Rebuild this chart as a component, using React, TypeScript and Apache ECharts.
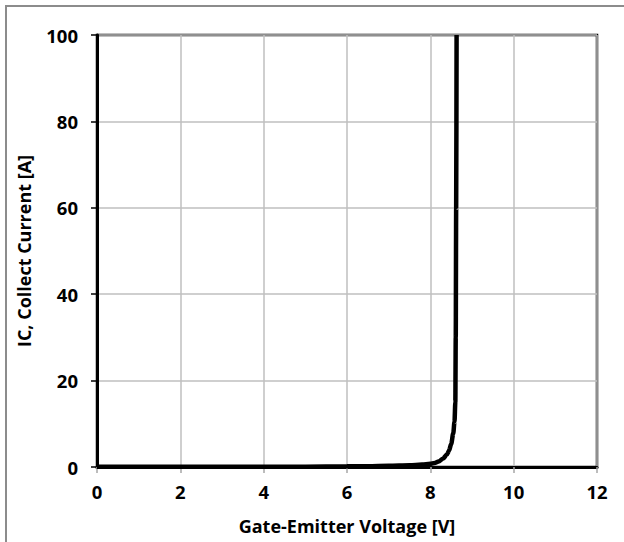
import React, { useEffect, useRef } from "react";
import * as echarts from "echarts";

const voltage = [0, 1, 2, 3, 4, 5, 6, 6.5, 7, 7.5, 7.8, 8, 8.1, 8.2, 8.3, 8.4, 8.45, 8.5, 8.55, 8.58, 8.6, 8.61, 8.62, 8.63];
const current = [0.05, 0.05, 0.05, 0.05, 0.06, 0.08, 0.15, 0.2, 0.3, 0.42, 0.55, 0.75, 0.95, 1.3, 1.9, 2.9, 3.8, 5.3, 7.8, 10.5, 15, 30, 60, 100];
const xTicks = [0, 2, 4, 6, 8, 10, 12];
const yTicks = [0, 20, 40, 60, 80, 100];

export default function App() {
  const ref = useRef<HTMLDivElement>(null);
  useEffect(() => {
    const chart = echarts.init(ref.current!, null, { renderer: "svg" });
    const font = "'Open Sans', 'Noto Sans', sans-serif";
    chart.setOption({
      animation: false,
      backgroundColor: "#fff",
      graphic: [
        {
          type: "rect",
          shape: { x: 6, y: 6, width: 700, height: 700 },
          style: { fill: "none", stroke: "#8c8c8c", lineWidth: 2 },
          z: 100,
        },
      ],
      grid: {
        left: 97,
        right: 27,
        top: 35,
        bottom: 75,
        show: true,
        borderColor: "#000",
        borderWidth: 2.5,
      },
      xAxis: {
        type: "value",
        min: 0,
        max: 12,
        interval: 2,
        name: "Gate-Emitter Voltage [V]",
        nameLocation: "middle",
        nameGap: 50,
        nameTextStyle: { fontFamily: font, fontWeight: "bold", fontSize: 18, color: "#000" },
        axisLine: { show: true, onZero: false, lineStyle: { color: "#000", width: 3 } },
        axisTick: { show: true, length: 6, lineStyle: { color: "#a6a6a6", width: 1.5 } },
        axisLabel: {
          formatter: (v: number) => (xTicks.includes(v) ? String(v) : ""),
          fontFamily: font,
          fontWeight: "bold",
          fontSize: 18.5,
          color: "#000",
          margin: 15,
        },
        splitLine: { show: true, lineStyle: { color: "#bfbfbf", width: 1.5 } },
      },
      yAxis: {
        type: "value",
        min: 0,
        max: 100,
        interval: 20,
        name: "IC, Collect Current [A]",
        nameLocation: "middle",
        nameGap: 64,
        nameTextStyle: { fontFamily: font, fontWeight: "bold", fontSize: 18, color: "#000" },
        axisLine: { show: true, lineStyle: { color: "#000", width: 3 } },
        axisTick: { show: true, length: 6, lineStyle: { color: "#000", width: 1.5 } },
        axisLabel: {
          formatter: (v: number) => (yTicks.includes(v) ? String(v) : ""),
          fontFamily: font,
          fontWeight: "bold",
          fontSize: 18.5,
          color: "#000",
          margin: 19,
        },
        splitLine: { show: true, lineStyle: { color: "#bfbfbf", width: 1.5 } },
      },
      series: [
        {
          type: "line",
          data: voltage.map((v, i) => [v, current[i]]),
          showSymbol: false,
          smooth: 0.3,
          smoothMonotone: "x",
          lineStyle: { color: "#000", width: 4.5 },
          clip: false,
        },
      ],
    });
    return () => chart.dispose();
  }, []);
  return (
    <div
      ref={ref}
      style={{ position: "absolute", left: 0, top: 0, width: 624, height: 542 }}
    />
  );
}
